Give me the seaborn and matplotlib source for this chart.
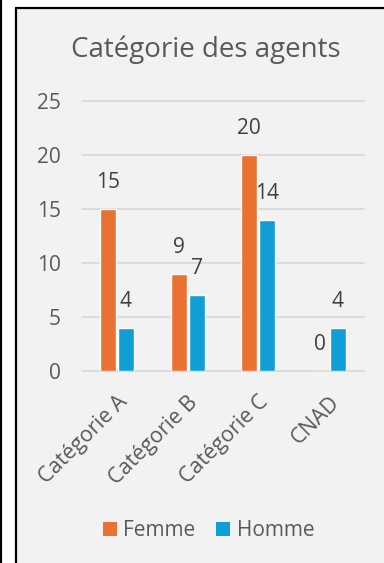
import matplotlib
matplotlib.use("Agg")
import matplotlib.pyplot as plt
import seaborn as sns
import pandas as pd
from matplotlib.patches import Rectangle
from matplotlib.lines import Line2D

# donnees
categories = ["Catégorie A", "Catégorie B", "Catégorie C", "CNAD"]
femme = [15, 9, 20, 0]
homme = [4, 7, 14, 4]
series = ["Femme", "Homme"]
colors = ["#E97132", "#0F9ED5"]
yticks = [0, 5, 10, 15, 20, 25]

df = pd.DataFrame({
    "categorie": categories * 2,
    "valeur": femme + homme,
    "sexe": [series[0]] * len(categories) + [series[1]] * len(categories),
})

sns.set_style("white")
plt.rcParams["font.family"] = ["Open Sans", "DejaVu Sans"]
txt = "#595959"
bg = "#F2F2F2"
grid = "#D9D9D9"
fs = 15

fig = plt.figure(figsize=(3.84, 5.63), dpi=100)
fig.patch.set_facecolor("white")

W, H = 384, 563
# cadre du graphique
fig.patches.append(Rectangle((16 / W, 0), 1 - 16 / W, 1 - 8 / H, transform=fig.transFigure,
                             facecolor=bg, edgecolor="none", zorder=-10))
fig.add_artist(Line2D([16 / W, 16 / W], [0, 1 - 8 / H], color="black", lw=1.6, transform=fig.transFigure))
fig.add_artist(Line2D([16 / W, 1], [1 - 8 / H, 1 - 8 / H], color="black", lw=1.6, transform=fig.transFigure))
fig.add_artist(Line2D([0.8 / W, 0.8 / W], [0, 1], color="black", lw=1.6, transform=fig.transFigure))

ax = fig.add_axes([81.7 / W, 1 - 371 / H, (364 - 81.7) / W, (371 - 101) / H])
ax.set_facecolor(bg)

sns.barplot(data=df, x="categorie", y="valeur", hue="sexe", palette=colors,
            width=0.51, gap=0.11, ax=ax, legend=False, saturation=1)

for c in ax.containers:
    ax.bar_label(c, padding=11.5, fontsize=fs, color="#404040")

ax.set_ylim(0, 25)
ax.set_xlim(-0.5, 3.5)
ax.set_yticks(yticks)
ax.yaxis.grid(True, color=grid, lw=1.3)
for gl in ax.get_ygridlines():
    gl.set_clip_on(False)
ax.set_axisbelow(True)
for s in ax.spines.values():
    s.set_visible(False)
ax.tick_params(axis="both", length=0, labelsize=fs, labelcolor=txt)
ax.tick_params(axis="y", pad=15)
ax.tick_params(axis="x", pad=15)
ax.set_xlabel("")
ax.set_ylabel("")
for lab in ax.get_xticklabels():
    lab.set_rotation(45)
    lab.set_ha("right")
    lab.set_va("top")
    lab.set_rotation_mode("anchor")
    lab.set_fontsize(15.5)

fig.text(206 / W, 1 - 57 / H, "Catégorie des agents", ha="center", va="baseline",
         fontsize=20, color=txt)

handles = [Rectangle((0, 0), 1, 1, facecolor=c, edgecolor="none") for c in colors]
fig.legend(handles, series, loc="center", bbox_to_anchor=(208.5 / W, 32 / H), ncol=2,
           frameon=False, fontsize=fs, labelcolor=txt, handlelength=0.68, handleheight=0.68,
           handletextpad=0.3, columnspacing=1.0)

fig.savefig("out.png", dpi=100, facecolor="white")
